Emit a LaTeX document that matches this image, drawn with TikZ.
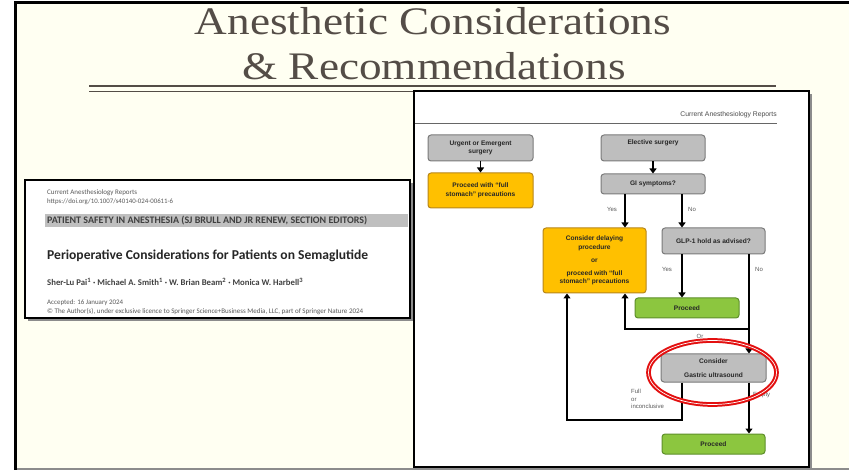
\documentclass[tikz,border=0pt]{standalone}
\usepackage{fontspec}
\setmainfont{Liberation Serif}
\newfontfamily\fcf{Liberation Sans}
\newfontfamily\ppf{Carlito}
\usetikzlibrary{arrows.meta}
\definecolor{cream}{HTML}{FFFFF2}
\definecolor{titlec}{HTML}{544D47}
\definecolor{boxgray}{HTML}{BEBEBE}
\definecolor{boxgrayd}{HTML}{7A7A7A}
\definecolor{boxyel}{HTML}{FFC000}
\definecolor{boxyeld}{HTML}{B8861A}
\definecolor{boxgrn}{HTML}{8CC63F}
\definecolor{boxgrnd}{HTML}{5E8F2A}
\definecolor{redring}{HTML}{E31010}
\begin{document}
\begin{tikzpicture}[x=1pt,y=-1pt,
 fbox/.style={rounded corners=3pt, line width=1pt, inner sep=0pt, align=center,
   font=\fcf\bfseries\fontsize{6.6}{8.5}\selectfont, text=black!85},
 gbox/.style={fbox, fill=boxgray, draw=boxgrayd},
 ybox/.style={fbox, fill=boxyel, draw=boxyeld},
 grbox/.style={fbox, fill=boxgrn, draw=boxgrnd},
 arr/.style={line width=1.8pt, -{Triangle[width=7pt,length=5pt]}},
 lbl/.style={font=\fcf\fontsize{6}{7}\selectfont, text=black!65, inner sep=0pt},
 pp/.style={anchor=west, inner sep=0pt},
 ttl/.style={font=\fontsize{39}{39}\selectfont, text=titlec, anchor=base, inner sep=0pt},
]
\useasboundingbox (0,0) rectangle (849,470);
% slide background
\fill[white] (0,0) rectangle (849,470);
\fill[cream] (15,3) rectangle (849,468);
\draw[black!45, line width=2pt] (15,469) -- (849,469);
\draw[black, line width=3pt] (15,470) -- (15,3) -- (851,3);

% title
\node[ttl] (t1) at (433,35) {\scalebox{1.16}[1]{Anesthetic Considerations}};
\node[ttl] (t2) at (434,80) {\scalebox{1.16}[1]{\& Recommendations}};
\draw[titlec, line width=2pt] (89,86) -- (776,86);
\draw[titlec, line width=1pt] (89,92) -- (776,92);

% paper snippet
\fill[black!45] (28,183) rectangle (413,321);
\draw[black, line width=2.5pt, fill=white] (25,180) rectangle (410,318);
\node[pp, text=black!65] (pj) at (47,193) {\resizebox{90pt}{!}{\ppf\fontsize{6}{7}\selectfont Current Anesthesiology Reports}};
\node[pp, text=black!65] (pdoi) at (47,202) {\resizebox{126pt}{!}{\ppf\fontsize{6}{7}\selectfont https://doi.org/10.1007/s40140-024-00611-6}};
\fill[black!25] (45,214) rectangle (408,227);
\node[pp, text=black!75] (pbanner) at (47,220.5) {\resizebox{320pt}{!}{\ppf\bfseries\fontsize{8}{9}\selectfont PATIENT SAFETY IN ANESTHESIA (SJ BRULL AND JR RENEW, SECTION EDITORS)}};
\node[pp, text=black!85] (ptitle) at (47,256) {\resizebox{321pt}{!}{\ppf\bfseries\fontsize{12}{14}\selectfont Perioperative Considerations for Patients on Semaglutide}};
\node[pp, text=black!75] (pauth) at (47,282) {\resizebox{256pt}{!}{\ppf\bfseries\fontsize{8}{9}\selectfont Sher-Lu Pai\textsuperscript{1} · Michael A. Smith\textsuperscript{1} · W. Brian Beam\textsuperscript{2} · Monica W. Harbell\textsuperscript{3}}};
\node[pp, text=black!65] (pacc) at (47,303) {\resizebox{76pt}{!}{\ppf\fontsize{6}{7}\selectfont Accepted: 16 January 2024}};
\node[pp, text=black!65] (pcopy) at (47,312) {\resizebox{316pt}{!}{\ppf\fontsize{6}{7}\selectfont © The Author(s), under exclusive licence to Springer Science+Business Media, LLC, part of Springer Nature 2024}};

% flowchart frame
\fill[black!45] (417,94) rectangle (812,470);
\draw[black, line width=2.5pt, fill=white] (414,91) rectangle (809,467);
\node[anchor=base east, inner sep=0pt, text=black!70, font=\fcf\fontsize{6.8}{8}\selectfont] (hdr) at (777,117) {Current Anesthesiology Reports};
\draw[black!60, line width=0.8pt] (415,123) -- (777,123);

% boxes
\node[gbox, minimum width=105pt, minimum height=26pt] (urgent) at (480.5,148) {Urgent or Emergent\\surgery};
\node[ybox, minimum width=105pt, minimum height=35pt] (fullst) at (480.5,190.5) {Proceed with “full\\stomach” precautions};
\node[gbox, minimum width=104pt, minimum height=26pt] (elective) at (653,148) {Elective surgery\\[4pt]};
\node[gbox, minimum width=104pt, minimum height=20pt] (gi) at (653,184) {GI symptoms?};
\node[ybox, minimum width=103pt, minimum height=65pt] (delay) at (594.5,260.5) {Consider delaying\\procedure\\[5pt]or\\[4pt]proceed with “full\\stomach” precautions};
\node[gbox, minimum width=103pt, minimum height=26pt] (glp) at (713.5,241) {GLP-1 hold as advised?};
\node[grbox, minimum width=104pt, minimum height=20pt] (proc1) at (687,308) {Proceed};
\node[gbox, minimum width=105pt, minimum height=28pt] (us) at (713.5,368) {Consider\\[5pt]Gastric ultrasound};
\node[grbox, minimum width=103pt, minimum height=20pt] (proc2) at (713.5,444) {Proceed};

% x positions
\coordinate (xa) at (625,0);
\coordinate (xb) at (682,0);
\coordinate (xc) at (749,0);
\coordinate (br) at (749,329);
\coordinate (bl) at (567,420);

% connectors
\draw[arr] (urgent) -- (fullst);
\draw[arr] (elective) -- (gi);
\draw[arr] (gi.south -| xa) -- (delay.north -| xa);
\draw[arr] (gi.south -| xb) -- (glp.north -| xb);
\draw[arr] (glp.south -| xb) -- (proc1.north -| xb);
\draw[arr] (glp.south -| xc) -- (us.north -| xc);
\draw[arr] (br) -| (delay.south -| xa);
\draw[arr] (us.south -| xb) |- (bl) -- (delay.south -| bl);
\draw[arr] (us.south -| xc) -- (proc2.north -| xc);

% labels
\node[lbl] (lyes1) at (612,209) {Yes};
\node[lbl] (lno1) at (692,209) {No};
\node[lbl] (lyes2) at (667,269) {Yes};
\node[lbl] (lno2) at (759,269) {No};
\node[lbl] (lor) at (700,336) {Or};
\node[lbl, anchor=north west, align=left, font=\fcf\fontsize{6}{7.5}\selectfont] (lfull) at (631,389) {Full\\or\\inconclusive};
\node[lbl, anchor=west] (lempty) at (753,395) {Empty};

% red ring
\draw[redring, line width=2pt, double=white, double distance=0.7pt] (712.5,372.5) ellipse [x radius=64pt, y radius=32pt];
\end{tikzpicture}
\end{document}
